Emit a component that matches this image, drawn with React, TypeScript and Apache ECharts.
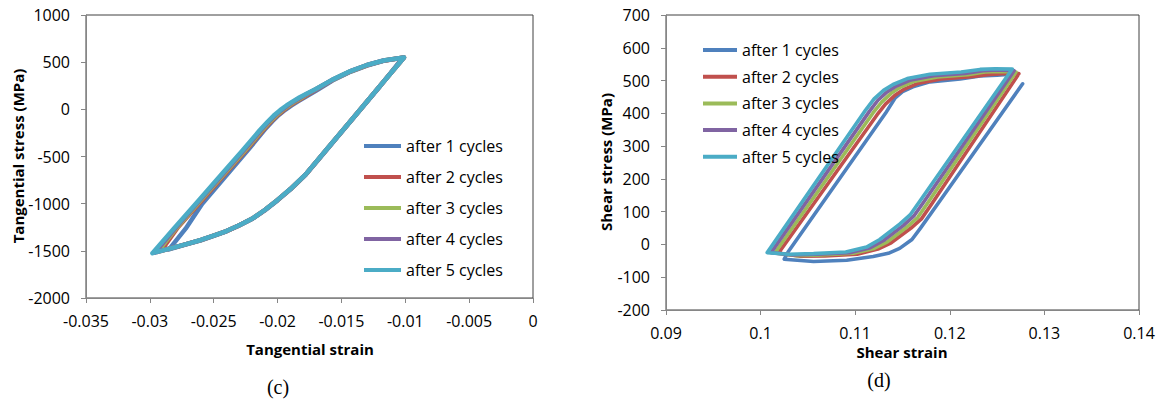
import React, { useEffect, useRef } from "react";
import * as echarts from "echarts";

const seriesNames = ["after 1 cycles", "after 2 cycles", "after 3 cycles", "after 4 cycles", "after 5 cycles"];
const colors = ["#4F81BD", "#C0504D", "#9BBB59", "#8064A2", "#4BACC6"];

// Left chart (c): tangential strain vs tangential stress (MPa)
const tanC1 = [
  [-0.0285, -1485], [-0.0272, -1265], [-0.0259, -1000], [-0.0242, -730], [-0.0223, -430], [-0.0210, -215],
  [-0.0204, -125], [-0.0199, -60], [-0.0194, -5], [-0.0189, 42], [-0.0184, 85], [-0.0179, 125],
  [-0.0174, 165], [-0.0169, 205], [-0.0157, 305], [-0.0143, 398], [-0.0130, 464], [-0.0117, 514], [-0.0102, 548],
  [-0.0120, 240], [-0.0140, -82], [-0.0160, -404], [-0.0178, -694], [-0.0190, -850], [-0.0200, -965],
  [-0.0210, -1072], [-0.0220, -1163], [-0.0230, -1232], [-0.0240, -1293], [-0.0250, -1342], [-0.0260, -1388],
  [-0.0270, -1425], [-0.0285, -1485],
];
const tanC2 = [
  [-0.0291, -1497], [-0.0278, -1250], [-0.0259, -960], [-0.0240, -668], [-0.0225, -440], [-0.0211, -215],
  [-0.0205, -128], [-0.0200, -62], [-0.0195, -6], [-0.0190, 43], [-0.0185, 86], [-0.0180, 126],
  [-0.0175, 167], [-0.0170, 208], [-0.0157, 310], [-0.0143, 401], [-0.0130, 467], [-0.0117, 516], [-0.0101, 549],
  [-0.0120, 244], [-0.0140, -79], [-0.0160, -401], [-0.0178, -691], [-0.0190, -846], [-0.0200, -961],
  [-0.0210, -1068], [-0.0220, -1161], [-0.0230, -1230], [-0.0240, -1291], [-0.0250, -1340], [-0.0260, -1386],
  [-0.0270, -1424], [-0.0280, -1461], [-0.0291, -1497],
];
const tanC3 = [
  [-0.0294, -1510], [-0.0279, -1255], [-0.0260, -962], [-0.0241, -670], [-0.0226, -442], [-0.0212, -218],
  [-0.0206, -130], [-0.0201, -63], [-0.0196, -7], [-0.0191, 42], [-0.0186, 86], [-0.0181, 126],
  [-0.0176, 167], [-0.0170, 212], [-0.0157, 312], [-0.0143, 403], [-0.0130, 469], [-0.0117, 517], [-0.0101, 550],
  [-0.0120, 245], [-0.0140, -78], [-0.0160, -400], [-0.0178, -690], [-0.0190, -845], [-0.0200, -960],
  [-0.0210, -1067], [-0.0220, -1160], [-0.0230, -1229], [-0.0240, -1290], [-0.0250, -1339], [-0.0260, -1385],
  [-0.0270, -1423], [-0.0280, -1460], [-0.0294, -1510],
];
const tanC4 = [
  [-0.0296, -1518], [-0.0280, -1258], [-0.0261, -965], [-0.0242, -672], [-0.0227, -443], [-0.0213, -220],
  [-0.0207, -132], [-0.0202, -64], [-0.0197, -8], [-0.0192, 42], [-0.0187, 86], [-0.0182, 126],
  [-0.0176, 170], [-0.0170, 213], [-0.0157, 314], [-0.0143, 404], [-0.0130, 470], [-0.0117, 518], [-0.0101, 550],
  [-0.0120, 245], [-0.0140, -78], [-0.0160, -400], [-0.0178, -690], [-0.0190, -845], [-0.0200, -960],
  [-0.0210, -1067], [-0.0220, -1160], [-0.0230, -1229], [-0.0240, -1290], [-0.0250, -1339], [-0.0260, -1385],
  [-0.0270, -1423], [-0.0280, -1460], [-0.0296, -1518],
];
const tanC5 = [
  [-0.0298, -1525], [-0.0281, -1260], [-0.0262, -968], [-0.0243, -675], [-0.0228, -445], [-0.0214, -222],
  [-0.0208, -134], [-0.0203, -66], [-0.0198, -9], [-0.0193, 41], [-0.0188, 85], [-0.0183, 125],
  [-0.0177, 168], [-0.0170, 215], [-0.0157, 315], [-0.0143, 405], [-0.0130, 470], [-0.0117, 518], [-0.0101, 550],
  [-0.0120, 245], [-0.0140, -78], [-0.0160, -400], [-0.0178, -690], [-0.0190, -845], [-0.0200, -960],
  [-0.0210, -1067], [-0.0220, -1160], [-0.0230, -1229], [-0.0240, -1290], [-0.0250, -1339], [-0.0260, -1385],
  [-0.0270, -1423], [-0.0280, -1460], [-0.0298, -1525],
];

// Right chart (d): shear strain vs shear stress (MPa)
const shC1 = [
  [0.1265, 519], [0.1250, 516], [0.1232, 514], [0.1211, 505], [0.1179, 496], [0.1161, 481], [0.1150, 466],
  [0.1142, 446], [0.1132, 400], [0.1029, -23], [0.1025, -45], [0.1056, -52], [0.1091, -48], [0.1119, -37],
  [0.1135, -27], [0.1147, -12], [0.1160, 15], [0.1169, 50], [0.1190, 135], [0.1277, 490],
];
const shC2 = [
  [0.1273, 521], [0.1255, 521], [0.1240, 518], [0.1223, 512], [0.1191, 505], [0.1167, 492], [0.1152, 474],
  [0.1142, 455], [0.1132, 428], [0.1123, 395], [0.1019, -26], [0.1042, -36], [0.1068, -35], [0.1102, -30],
  [0.1124, -14], [0.1138, 5], [0.1159, 50], [0.1170, 78], [0.1181, 124], [0.1273, 521],
];
const shC3 = [
  [0.1270, 526], [0.1252, 528], [0.1237, 526], [0.1219, 518], [0.1187, 511], [0.1163, 498], [0.1148, 480],
  [0.1138, 461], [0.1128, 434], [0.1119, 402], [0.1015, -26], [0.1038, -34], [0.1064, -32], [0.1098, -27],
  [0.1120, -12], [0.1134, 8], [0.1155, 54], [0.1166, 82], [0.1177, 128], [0.1270, 526],
];
const shC4 = [
  [0.1268, 530], [0.1250, 532], [0.1235, 530], [0.1216, 522], [0.1183, 515], [0.1159, 502], [0.1144, 484],
  [0.1134, 466], [0.1124, 440], [0.1115, 406], [0.1011, -25], [0.1034, -32], [0.1060, -30], [0.1094, -25],
  [0.1116, -10], [0.1130, 12], [0.1151, 58], [0.1162, 87], [0.1173, 132], [0.1268, 530],
];
const shC5 = [
  [0.1266, 535], [0.1248, 536], [0.1232, 534], [0.1212, 526], [0.1179, 519], [0.1155, 506], [0.1140, 488],
  [0.1130, 470], [0.1120, 444], [0.1111, 410], [0.1007, -25], [0.1030, -30], [0.1056, -28], [0.1090, -23],
  [0.1112, -8], [0.1126, 15], [0.1147, 62], [0.1158, 90], [0.1169, 135], [0.1266, 535],
];

const leftData = [tanC1, tanC2, tanC3, tanC4, tanC5];
const rightData = [shC1, shC2, shC3, shC4, shC5];

const fmt = (v: number) => String(parseFloat(v.toFixed(4)));

export default function App() {
  const ref = useRef<HTMLDivElement>(null);
  useEffect(() => {
    if (!ref.current) return;
    const chart = echarts.init(ref.current, null, { renderer: "svg" });
    const font = "'Open Sans', 'Noto Sans', sans-serif";
    const axisCommon = {
      axisLine: { show: true, onZero: false, lineStyle: { color: "#868686", width: 1 } },
      axisTick: { show: true, inside: false, length: 5, lineStyle: { color: "#868686" } },
      splitLine: { show: false },
    };
    const labelStyle = { color: "#000", fontSize: 16, fontFamily: font };
    const series: any[] = [];
    leftData.forEach((d, i) => {
      series.push({
        name: seriesNames[i], type: "line", xAxisIndex: 0, yAxisIndex: 0, data: d,
        showSymbol: false, symbol: "none", smooth: false,
        lineStyle: { color: colors[i], width: 4.5, cap: "round", join: "round" },
        itemStyle: { color: colors[i] },
      });
    });
    rightData.forEach((d, i) => {
      series.push({
        name: seriesNames[i], type: "line", xAxisIndex: 1, yAxisIndex: 1, data: d,
        showSymbol: false, symbol: "none", smooth: false,
        lineStyle: { color: colors[i], width: 3.6, cap: "round", join: "round" },
        itemStyle: { color: colors[i] },
      });
    });
    const legendCommon = {
      orient: "vertical", icon: "rect", itemHeight: 4,
      data: seriesNames,
      textStyle: { color: "#000", fontSize: 16, fontFamily: font, lineHeight: 18 },
      selectedMode: false,
    };
    chart.setOption({
      animation: false,
      backgroundColor: "#fff",
      grid: [
        { left: 86, top: 15, width: 447, height: 283, show: true, borderColor: "#404040", borderWidth: 1, backgroundColor: "transparent" },
        { left: 666, top: 15, width: 473, height: 295, show: true, borderColor: "#404040", borderWidth: 1, backgroundColor: "transparent" },
      ],
      xAxis: [
        { type: "value", gridIndex: 0, min: -0.035, max: 0, interval: 0.005, ...axisCommon,
          axisLabel: { ...labelStyle, margin: 15, formatter: fmt } },
        { type: "value", gridIndex: 1, min: 0.09, max: 0.14, interval: 0.01, ...axisCommon,
          axisLabel: { ...labelStyle, margin: 15, formatter: fmt } },
      ],
      yAxis: [
        { type: "value", gridIndex: 0, min: -2000, max: 1000, interval: 500, ...axisCommon,
          axisLabel: { ...labelStyle, margin: 16, formatter: fmt } },
        { type: "value", gridIndex: 1, min: -200, max: 700, interval: 100, ...axisCommon,
          axisLabel: { ...labelStyle, margin: 16, formatter: fmt } },
      ],
      legend: [
        { ...legendCommon, left: 359, top: 132, itemWidth: 37, itemGap: 13 },
        { ...legendCommon, left: 698, top: 36, itemWidth: 34, itemGap: 8.7 },
      ],
      graphic: [
        { type: "text", x: 18, y: 156, rotation: Math.PI / 2,
          style: { text: "Tangential stress (MPa)", font: `bold 15px ${font}`, fill: "#000", align: "center", verticalAlign: "middle" } },
        { type: "text", x: 310, y: 349,
          style: { text: "Tangential strain", font: `bold 15px ${font}`, fill: "#000", align: "center", verticalAlign: "middle" } },
        { type: "text", x: 606, y: 162, rotation: Math.PI / 2,
          style: { text: "Shear stress (MPa)", font: `bold 15px ${font}`, fill: "#000", align: "center", verticalAlign: "middle" } },
        { type: "text", x: 902, y: 352,
          style: { text: "Shear strain", font: `bold 15px ${font}`, fill: "#000", align: "center", verticalAlign: "middle" } },
        { type: "text", x: 278, y: 387,
          style: { text: "(c)", font: "20px 'Liberation Serif', 'DejaVu Serif', serif", fill: "#000", align: "center", verticalAlign: "middle" } },
        { type: "text", x: 879, y: 380,
          style: { text: "(d)", font: "20px 'Liberation Serif', 'DejaVu Serif', serif", fill: "#000", align: "center", verticalAlign: "middle" } },
      ],
      series,
    });
    return () => chart.dispose();
  }, []);
  return <div ref={ref} style={{ position: "fixed", left: 0, top: 0, width: 1163, height: 399 }} />;
}
